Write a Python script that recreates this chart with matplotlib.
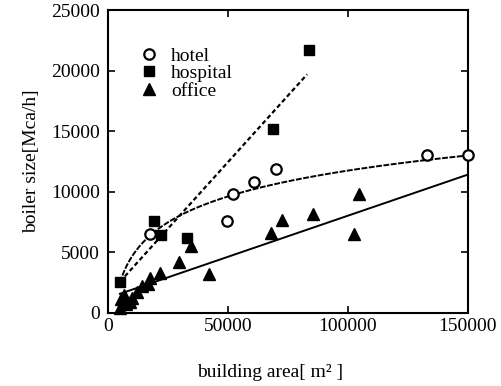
import numpy as np
import matplotlib
matplotlib.use("Agg")
import matplotlib.pyplot as plt

plt.rcParams['font.family'] = ['Liberation Serif', 'DejaVu Serif']
plt.rcParams['mathtext.fontset'] = 'stix'

# Measured boiler sizes by building type
hotel_x = [17500, 49700, 52200, 61000, 70000, 133000, 150000]
hotel_y = [6500, 7600, 9800, 10800, 11900, 13000, 13000]

hospital_x = [5000, 19000, 22000, 33000, 69000, 84000]
hospital_y = [2500, 7600, 6400, 6200, 15200, 21700]

office_x = [5000, 5500, 6500, 7500, 9000, 10000, 12000, 14000, 16500, 17500,
            21500, 29500, 34500, 42000, 68000, 72500, 85500, 102500, 104500]
office_y = [400, 1100, 1500, 700, 900, 1200, 1700, 2200, 2400, 2900,
            3300, 4200, 5500, 3200, 6600, 7700, 8200, 6500, 9800]

# Regression curves: hotel y = a*ln(x) + b, hospital/office y = a*x + b
hotel_fit = (3088.0, -23800.0)
hotel_range = (5000, 150000)
hospital_fit = (0.22, 1450.0)
hospital_range = (5000, 83000)
office_fit = (0.068, 1220.0)
office_range = (5000, 150000)

x_ticks = [0, 50000, 100000, 150000]
y_ticks = [0, 5000, 10000, 15000, 20000, 25000]

fig = plt.figure(figsize=(5.02, 3.86), dpi=100)
ax = fig.add_axes([0.215, 0.19, 0.717, 0.783])

xh = np.linspace(*hotel_range, 300)
ax.plot(xh, hotel_fit[0] * np.log(xh) + hotel_fit[1], color='black',
        lw=1.4, linestyle=(0, (3.0, 0.8)))
xp = np.linspace(*hospital_range, 50)
ax.plot(xp, hospital_fit[0] * xp + hospital_fit[1], color='black',
        lw=1.6, linestyle=(0, (2.0, 1.3)))
xo = np.linspace(*office_range, 50)
ax.plot(xo, office_fit[0] * xo + office_fit[1], color='black', lw=1.4)

ax.plot(hotel_x, hotel_y, 'o', ms=7.5, mfc='white', mec='black', mew=1.6,
        clip_on=False, label='hotel', zorder=4)
ax.plot(hospital_x, hospital_y, 's', ms=6.5, color='black',
        clip_on=False, label='hospital', zorder=4)
ax.plot(office_x, office_y, '^', ms=8.5, color='black',
        clip_on=False, label='office', zorder=4)

ax.set_xlim(0, 150000)
ax.set_ylim(0, 25000)
ax.set_xticks(x_ticks)
ax.set_yticks(y_ticks)
ax.set_xticklabels([str(v) for v in x_ticks])
ax.set_yticklabels([str(v) for v in y_ticks])
ax.tick_params(direction='in', length=5, width=1.2, labelsize=14,
               top=True, right=True)
ax.tick_params(axis='x', pad=4)
ax.tick_params(axis='y', pad=6)
for s in ax.spines.values():
    s.set_linewidth(1.5)

ax.set_xlabel('building area[ m\u00b2 ]', fontsize=14, labelpad=18)
ax.xaxis.set_label_coords(0.45, -0.17)
ax.set_ylabel('boiler size[Mca/h]', fontsize=14, labelpad=8)

ax.legend(loc='upper left', bbox_to_anchor=(0.075, 0.905), frameon=False,
          fontsize=14, handlelength=0.6, handletextpad=0.85,
          labelspacing=0.0, borderaxespad=0)

fig.savefig('out.png', dpi=100)
